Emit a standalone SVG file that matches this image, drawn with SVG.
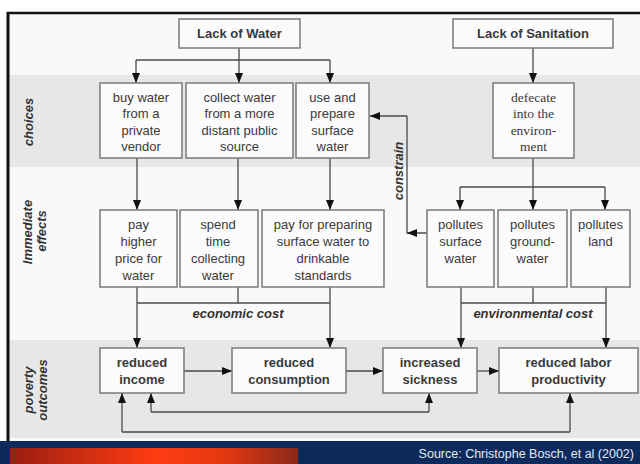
<svg xmlns="http://www.w3.org/2000/svg" width="640" height="464" viewBox="0 0 640 464">
<defs>
<style>
.box{fill:#fbfbfb;stroke:#7a7a7a;stroke-width:1.5}
.t{font-family:"Liberation Sans",Arial,sans-serif;font-size:13px;fill:#3a3a3a;text-anchor:middle}
.b{font-weight:bold}
.s{font-family:"Liberation Serif","Times New Roman",serif;font-size:13.5px;fill:#3a3a3a;text-anchor:middle}
.lab{font-family:"Liberation Sans",Arial,sans-serif;font-size:13px;font-weight:bold;font-style:italic;fill:#333;text-anchor:middle}
.c{fill:none;stroke:#4a4a4a;stroke-width:1.3}
.a{marker-end:url(#ah)}
</style>
<marker id="ah" viewBox="0 0 10 8" refX="10" refY="4" markerWidth="10" markerHeight="8" markerUnits="userSpaceOnUse" orient="auto">
<path d="M0,0 L10,4 L0,8 z" fill="#111"/>
</marker>
<linearGradient id="red" x1="0" y1="0" x2="1" y2="0">
<stop offset="0" stop-color="#9a1e10"/>
<stop offset="0.5" stop-color="#ff3c12"/>
<stop offset="0.75" stop-color="#e2380f"/>
<stop offset="1" stop-color="#8a2a18"/>
</linearGradient>
</defs>
<rect x="0" y="0" width="640" height="464" fill="#ffffff"/>
<rect x="8" y="13" width="632" height="430" fill="#f9f9f9"/>
<rect x="9" y="75" width="631" height="92" fill="#e7e7e7"/>
<rect x="9" y="340" width="631" height="98" fill="#e7e7e7"/>
<line x1="7" y1="13" x2="640" y2="13" stroke="#111" stroke-width="2.5"/>
<line x1="8" y1="12" x2="8" y2="442" stroke="#111" stroke-width="3"/>
<g id="footer">
<rect x="0" y="441" width="640" height="23" fill="#0c2b5c"/>
<rect x="10" y="448" width="288" height="16" fill="url(#red)"/>
<text x="634" y="458" style="font-family:'Liberation Sans',Arial,sans-serif;font-size:12.5px;fill:#e6eaf2;text-anchor:end">Source: Christophe Bosch, et al (2002)</text>
</g>
<g id="row-labels">
<text class="lab" transform="translate(32.5,122) rotate(-90)">choices</text>
<text class="lab" transform="translate(31.5,232) rotate(-90)">Immediate</text>
<text class="lab" transform="translate(45.5,231) rotate(-90)">effects</text>
<text class="lab" transform="translate(32.5,390) rotate(-90)">poverty</text>
<text class="lab" transform="translate(46.5,390) rotate(-90)">outcomes</text>
</g>
<g id="connectors">
<path class="c" d="M239,48 V60"/>
<path class="c" d="M136,60 H330"/>
<path class="c a" d="M136,60 V83"/>
<path class="c a" d="M239,60 V83"/>
<path class="c a" d="M330,60 V83"/>
<path class="c a" d="M533,48 V83"/>
<path class="c a" d="M137,158 V210"/>
<path class="c a" d="M238,158 V210"/>
<path class="c a" d="M330,158 V210"/>
<path class="c a" d="M533,158 V210"/>
<path class="c" d="M460,187 H605"/>
<path class="c a" d="M460,187 V210"/>
<path class="c a" d="M605,187 V210"/>
<path class="c" d="M427,233 H407 V116"/>
<path class="c a" d="M407,116 H370"/>
<path d="M407,233 L417,229 L417,237 z" fill="#111"/>
<path class="c a" d="M137,287 V348"/>
<path class="c" d="M137,303 H330"/>
<path class="c" d="M238,287 V303"/>
<path class="c a" d="M330,287 V348"/>
<path class="c a" d="M461,287 V348"/>
<path class="c" d="M461,303 H606"/>
<path class="c" d="M533,287 V303"/>
<path class="c a" d="M606,287 V348"/>
<path class="c a" d="M184,371 H232"/>
<path class="c a" d="M346,371 H383"/>
<path class="c a" d="M477,371 H499"/>
<path class="c a" d="M429,412 V393"/>
<path class="c" d="M429,412 H151"/>
<path class="c a" d="M151,412 V393"/>
<path class="c a" d="M570,432 V393"/>
<path class="c" d="M570,432 H122"/>
<path class="c a" d="M122,432 V393"/>
<text class="lab" x="238" y="318">economic cost</text>
<text class="lab" x="533" y="318">environmental cost</text>
<text class="lab" transform="translate(402.5,171) rotate(-90)">constrain</text>
</g>
<g id="lack-of-water">
<rect class="box" x="179" y="19" width="121" height="29"/>
<text class="t b" x="239.5" y="38">Lack of Water</text>
</g>
<g id="lack-of-sanitation">
<rect class="box" x="453" y="19" width="160" height="29"/>
<text class="t b" x="533" y="38">Lack of Sanitation</text>
</g>
<g id="buy-water">
<rect class="box" x="100" y="83" width="82" height="75"/>
<text class="t" x="141" y="101.5">buy water</text>
<text class="t" x="141" y="118">from a</text>
<text class="t" x="141" y="134.5">private</text>
<text class="t" x="141" y="151">vendor</text>
</g>
<g id="collect-water">
<rect class="box" x="186" y="83" width="107" height="75"/>
<text class="t" x="239.5" y="101.5">collect water</text>
<text class="t" x="239.5" y="118">from a more</text>
<text class="t" x="239.5" y="134.5">distant public</text>
<text class="t" x="239.5" y="151">source</text>
</g>
<g id="use-surface">
<rect class="box" x="296" y="83" width="73" height="75"/>
<text class="t" x="332.5" y="101.5">use and</text>
<text class="t" x="332.5" y="118">prepare</text>
<text class="t" x="332.5" y="134.5">surface</text>
<text class="t" x="332.5" y="151">water</text>
</g>
<g id="defecate">
<rect class="box" x="493" y="83" width="81" height="75"/>
<text class="s" x="533.5" y="101.5">defecate</text>
<text class="s" x="533.5" y="118">into the</text>
<text class="s" x="533.5" y="134.5">environ-</text>
<text class="s" x="533.5" y="151">ment</text>
</g>
<g id="pay-higher">
<rect class="box" x="100" y="210" width="77" height="77"/>
<text class="t" x="138.5" y="229">pay</text>
<text class="t" x="138.5" y="246">higher</text>
<text class="t" x="138.5" y="262.5">price for</text>
<text class="t" x="138.5" y="279.5">water</text>
</g>
<g id="spend-time">
<rect class="box" x="180" y="210" width="78" height="77"/>
<text class="t" x="218" y="229">spend</text>
<text class="t" x="218" y="246">time</text>
<text class="t" x="218" y="262.5">collecting</text>
<text class="t" x="218" y="279.5">water</text>
</g>
<g id="pay-preparing">
<rect class="box" x="262" y="210" width="122" height="77"/>
<text class="t" x="323" y="229">pay for preparing</text>
<text class="t" x="323" y="246">surface water to</text>
<text class="t" x="323" y="262.5">drinkable</text>
<text class="t" x="323" y="279.5">standards</text>
</g>
<g id="pollutes-surface">
<rect class="box" x="427" y="210" width="67" height="77"/>
<text class="t" x="460.5" y="229">pollutes</text>
<text class="t" x="460.5" y="246">surface</text>
<text class="t" x="460.5" y="262.5">water</text>
</g>
<g id="pollutes-ground">
<rect class="box" x="498" y="210" width="69" height="77"/>
<text class="t" x="532.5" y="229">pollutes</text>
<text class="t" x="532.5" y="246">ground-</text>
<text class="t" x="532.5" y="262.5">water</text>
</g>
<g id="pollutes-land">
<rect class="box" x="571" y="210" width="59" height="77"/>
<text class="t" x="600.5" y="229">pollutes</text>
<text class="t" x="600.5" y="246">land</text>
</g>
<g id="reduced-income">
<rect class="box" x="100" y="348" width="84" height="45"/>
<text class="t b" x="142" y="367">reduced</text>
<text class="t b" x="142" y="384">income</text>
</g>
<g id="reduced-consumption">
<rect class="box" x="232" y="348" width="114" height="45"/>
<text class="t b" x="289" y="367">reduced</text>
<text class="t b" x="289" y="384">consumption</text>
</g>
<g id="increased-sickness">
<rect class="box" x="383" y="348" width="94" height="45"/>
<text class="t b" x="430" y="367">increased</text>
<text class="t b" x="430" y="384">sickness</text>
</g>
<g id="reduced-labor">
<rect class="box" x="499" y="348" width="139" height="45"/>
<text class="t b" x="568.5" y="367">reduced labor</text>
<text class="t b" x="568.5" y="384">productivity</text>
</g>
</svg>
